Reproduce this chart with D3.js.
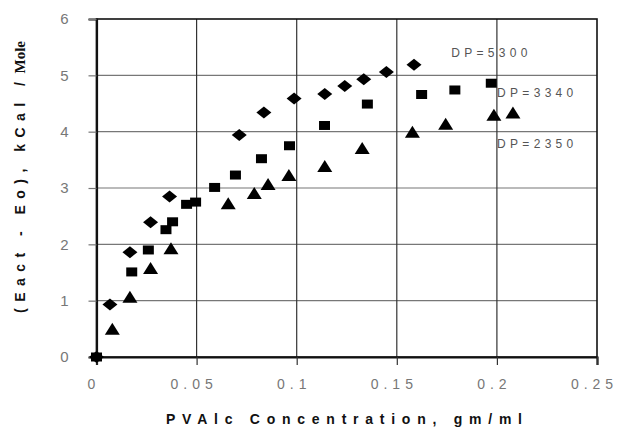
<!DOCTYPE html>
<html>
<head>
<meta charset="utf-8">
<script src="https://cdn.jsdelivr.net/npm/d3@7"></script>
<style>
  body { margin: 0; background: #fff; }
  svg { display: block; }
</style>
</head>
<body>
<svg id="chart" width="618" height="429"></svg>
<script>
// ticks
const xTicks = [0, 0.05, 0.1, 0.15, 0.2, 0.25];
const xTickLabels = ["0", "0.05", "0.1", "0.15", "0.2", "0.25"];
const yTicks = [0, 1, 2, 3, 4, 5, 6];

// DP = 5300 (diamonds)
const dp5300X = [0, 0.0067, 0.0167, 0.027, 0.0365, 0.0713, 0.0836, 0.0987, 0.114, 0.124, 0.1335, 0.1448, 0.1586];
const dp5300Y = [0, 0.93, 1.86, 2.39, 2.85, 3.94, 4.34, 4.59, 4.67, 4.81, 4.93, 5.06, 5.19];

// DP = 3340 (squares)
const dp3340X = [0, 0.0176, 0.0259, 0.0347, 0.038, 0.045, 0.0495, 0.059, 0.0694, 0.0824, 0.0964, 0.1139, 0.1353, 0.1624, 0.179, 0.1972];
const dp3340Y = [0, 1.51, 1.90, 2.26, 2.40, 2.71, 2.75, 3.01, 3.23, 3.52, 3.75, 4.11, 4.49, 4.66, 4.74, 4.86];

// DP = 2350 (triangles)
const dp2350X = [0.0079, 0.0167, 0.027, 0.0372, 0.0658, 0.0788, 0.0857, 0.0961, 0.114, 0.1327, 0.1578, 0.1744, 0.1985, 0.208];
const dp2350Y = [0.50, 1.07, 1.58, 1.93, 2.73, 2.91, 3.07, 3.23, 3.39, 3.71, 4.00, 4.14, 4.30, 4.34];

// series labels, placed in data units
const seriesLabels = ["DP=5300", "DP=3340", "DP=2350"];
const labelX = [0.1772, 0.2001, 0.2001];
const labelY = [5.32, 4.62, 3.71];

const svg = d3.select('#chart');
const margin = {top: 19, right: 21, bottom: 72, left: 96.5};
const width = 618 - margin.left - margin.right;
const height = 429 - margin.top - margin.bottom;

const g = svg.append('g').attr('transform', 'translate(' + margin.left + ',' + margin.top + ')');

const x = d3.scaleLinear().domain([0, 0.25]).range([0, width]);
const y = d3.scaleLinear().domain([0, 6]).range([height, 0]);

const sans = 'Arial, "Liberation Sans", sans-serif';

// gridlines
g.append('g').selectAll('line')
  .data(yTicks.filter(d => d > 0 && d < 6))
  .enter().append('line')
    .attr('x1', 0).attr('x2', width)
    .attr('y1', d => y(d)).attr('y2', d => y(d))
    .attr('stroke', '#777').attr('stroke-width', 1.2);

g.append('g').selectAll('line')
  .data(xTicks.filter(d => d > 0 && d < 0.25))
  .enter().append('line')
    .attr('x1', d => x(d)).attr('x2', d => x(d))
    .attr('y1', 0).attr('y2', height)
    .attr('stroke', '#333').attr('stroke-width', 1.2);

// frame
g.append('rect')
  .attr('x', 0).attr('y', 0)
  .attr('width', width).attr('height', height)
  .attr('fill', 'none').attr('stroke', '#111').attr('stroke-width', 1.6);

// axes
const xAxis = g.append('g')
  .attr('transform', 'translate(0,' + height + ')')
  .call(d3.axisBottom(x).tickValues(xTicks).tickSize(8).tickPadding(14)
    .tickFormat((d, i) => xTickLabels[i]));
xAxis.select('.domain').attr('stroke', '#111').attr('stroke-width', 2.2);
xAxis.selectAll('.tick line').attr('stroke', '#333').attr('stroke-width', 1.2);
xAxis.selectAll('.tick text')
  .attr('fill', '#777')
  .attr('dx', -3)
  .style('font-family', sans)
  .style('font-size', '14px')
  .style('letter-spacing', '5px');

const yAxis = g.append('g')
  .call(d3.axisLeft(y).tickValues(yTicks).tickSize(8).tickPadding(20)
    .tickFormat(d3.format('d')));
yAxis.select('.domain').attr('stroke', '#111').attr('stroke-width', 2.2);
yAxis.selectAll('.tick line').attr('stroke', '#777').attr('stroke-width', 1.2);
yAxis.selectAll('.tick text')
  .attr('fill', '#777')
  .style('font-family', sans)
  .style('font-size', '15px');

// markers
const diamond = 'M0,-6L7.5,0L0,6L-7.5,0Z';
const square = 'M-5.5,-4.5H5.5V4.5H-5.5Z';
const triangle = 'M0,-6L7.5,6H-7.5Z';

function plotSeries(xs, ys, path) {
  g.append('g').selectAll('path')
    .data(xs.map((d, i) => [d, ys[i]]))
    .enter().append('path')
      .attr('d', path)
      .attr('transform', d => 'translate(' + x(d[0]) + ',' + y(d[1]) + ')')
      .attr('fill', '#000');
}
plotSeries(dp3340X, dp3340Y, square);
plotSeries(dp2350X, dp2350Y, triangle);
plotSeries(dp5300X, dp5300Y, diamond);

// series labels
g.append('g').selectAll('text')
  .data(seriesLabels)
  .enter().append('text')
    .attr('x', (d, i) => x(labelX[i]))
    .attr('y', (d, i) => y(labelY[i]))
    .attr('fill', '#555')
    .style('font-family', sans)
    .style('font-size', '12px')
    .style('letter-spacing', '4.3px')
    .text(d => d);

// fit a text element to a given span by adjusting letter spacing
function fitSpacing(sel, span) {
  const node = sel.node();
  const n = node.textContent.length;
  const natural = node.getComputedTextLength();
  sel.style('letter-spacing', ((span - natural) / (n - 1)) + 'px');
}

// x title
const xTitle = svg.append('text')
  .attr('x', 166).attr('y', 424)
  .attr('fill', '#111')
  .style('font-family', sans)
  .style('font-size', '14px')
  .style('font-weight', 'bold')
  .text('PVAlc Concentration, gm/ml');
fitSpacing(xTitle, 356);

// y title
const yTitle = svg.append('text')
  .attr('transform', 'translate(25,313) rotate(-90)')
  .attr('fill', '#111')
  .style('font-family', sans)
  .style('font-size', '14px')
  .style('font-weight', 'bold');
const yPart = yTitle.append('tspan').text('(Eact - Eo), kCal /');
const nat = yPart.node().getComputedTextLength();
yPart.style('letter-spacing', ((231 - nat) / (yPart.text().length - 1)) + 'px');
yTitle.append('tspan')
  .attr('dx', 2)
  .style('font-family', '"Liberation Serif", "Times New Roman", serif')
  .style('font-size', '15px')
  .style('letter-spacing', '0px')
  .text('Mole');
</script>
</body>
</html>
